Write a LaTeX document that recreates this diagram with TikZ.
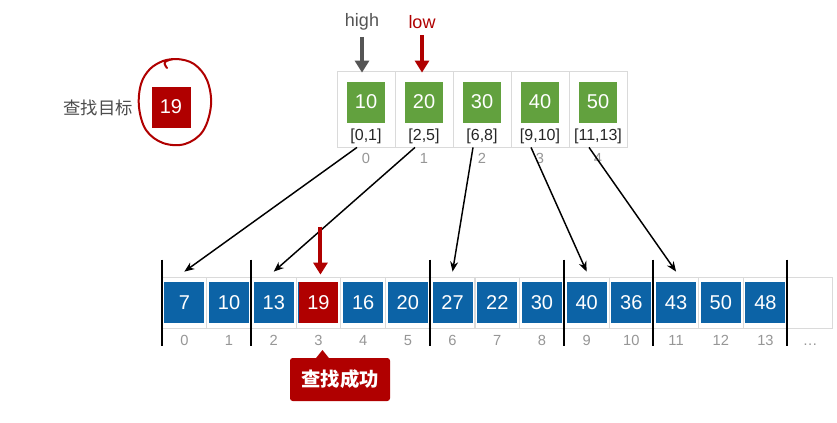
\documentclass[tikz,border=0pt]{standalone}
\usepackage{fontspec}
\setmainfont{Liberation Sans}
\newfontfamily\cjk{Noto Sans CJK SC}
\usetikzlibrary{arrows.meta, calc}

\definecolor{boxgreen}{RGB}{98,161,62}
\definecolor{boxblue}{RGB}{12,99,166}
\definecolor{boxred}{RGB}{176,0,0}
\definecolor{idxgray}{RGB}{150,150,150}
\definecolor{linegray}{RGB}{218,218,218}
\definecolor{darkarrow}{RGB}{85,85,85}

\begin{document}
\begin{tikzpicture}[x=0.75pt, y=-0.75pt,
    topcell/.style={draw=linegray, line width=0.6pt, minimum width=43.5pt, minimum height=57pt, inner sep=0pt},
    botcell/.style={draw=linegray, line width=0.6pt, minimum width=33.5pt, minimum height=38.25pt, inner sep=0pt},
    numbox/.style={text=white, inner sep=0pt, font=\fontsize{15}{17}\selectfont},
    gbox/.style={numbox, fill=boxgreen, minimum width=28.5pt, minimum height=30.75pt},
    bbox/.style={numbox, fill=boxblue, minimum width=30pt, minimum height=30.75pt},
    rbox/.style={numbox, fill=boxred, minimum width=29.25pt, minimum height=30.75pt},
    rng/.style={text=black!85, inner sep=1pt, font=\fontsize{12}{14}\selectfont},
    idx/.style={text=idxgray, inner sep=1pt, text height=8pt, text depth=0pt, font=\fontsize{11}{13}\selectfont},
    tag/.style={inner sep=1pt, font=\fontsize{13.5}{16}\selectfont},
    bigarrow/.style={line width=3pt, -{Triangle[width=10.5pt,length=9pt]}},
    link/.style={line width=1.1pt, -{Stealth[length=7.5pt,width=6pt]}},
    sep/.style={line width=1.5pt, black},
    ring/.style={draw=boxred, line width=1.5pt, line cap=round},
    callbox/.style={rectangle, fill=boxred, text=white, rounded corners=2pt,
        minimum width=75pt, minimum height=32.25pt, inner sep=0pt,
        font=\cjk\bfseries\fontsize{14.5}{17}\selectfont}]

    \fill[white] (0,0) rectangle (837,422);
    \useasboundingbox (0,0) rectangle (837,422);

    % target
    \node[tag, text=black!70, font=\cjk\fontsize{13}{15}\selectfont] (goal) at (98,108) {查找目标};
    \node[rbox] (tgt) at (171,107) {19};
    \draw[ring] plot[smooth, tension=0.6] coordinates {(167,68) (165,62) (177,59) (194,64) (207,80) (211,105) (203,131) (185,144) (163,143) (146,130) (139,107) (141,84) (150,69) (163,61) (174,59)};

    % index table
    \foreach \i/\v/\r in {0/10/{[0,1]}, 1/20/{[2,5]}, 2/30/{[6,8]}, 3/40/{[9,10]}, 4/50/{[11,13]}} {
        \node[topcell] (t\i) at (366+58*\i, 109) {};
        \node[gbox] (g\i) at (366+58*\i, 102) {\v};
        \node[rng] (r\i) at (366+58*\i, 136) {\r};
        \node[idx] (ti\i) at (366+58*\i, 158) {\i};
    }

    \node[tag, text=darkarrow] (hi) at (362,22) {high};
    \node[tag, text=boxred] (lo) at (422,22) {low};
    \draw[bigarrow, darkarrow] ($(hi.south)+(0,5)$) -- ($(t0.north)+(-4,2)$);
    \draw[bigarrow, boxred] ($(lo.south)+(0,5)$) -- ($(t1.north)+(-2,2)$);

    % data array
    \foreach \v [count=\i from 0] in {7,10,13,19,16,20,27,22,30,40,36,43,50,48} {
        \node[botcell] (c\i) at (184.35+44.7*\i, 302.5) {};
        \node[bbox] (b\i) at (c\i) {\v};
        \node[idx] (bi\i) at (184.35+44.7*\i, 340) {\i};
    }
    \node[botcell] (c14) at (184.35+44.7*14, 302.5) {};
    \node[idx] (bi14) at (c14 |- bi0) {\dots};
    \node[rbox] (hit) at (c3) {19};

    \foreach \k in {0,2,6,9,11,14} {
        \draw[sep] ($(c\k.north west)+(0,-17)$) -- ($(c\k.south west)+(0,18)$);
    }

    \foreach \a/\b in {0/0, 1/2, 2/6, 3/9, 4/11} {
        \draw[link] ($(t\a.south)+(-9,0)$) -- ($(c\b.north)+(0,-5)$);
    }

    \coordinate (drop) at ($(c3.north)+(2,-50)$);
    \draw[bigarrow, boxred] (drop) -- ($(c3.north)+(2,-2)$);

    % result
    \node[callbox] (found) at (340,379.5) {查找成功};
    \coordinate (tip) at ($(bi3)+(4,10)$);
    \fill[boxred] (tip) -- ($(tip |- found.north)+(-7,1)$) -- ($(tip |- found.north)+(7,1)$) -- cycle;
\end{tikzpicture}
\end{document}
